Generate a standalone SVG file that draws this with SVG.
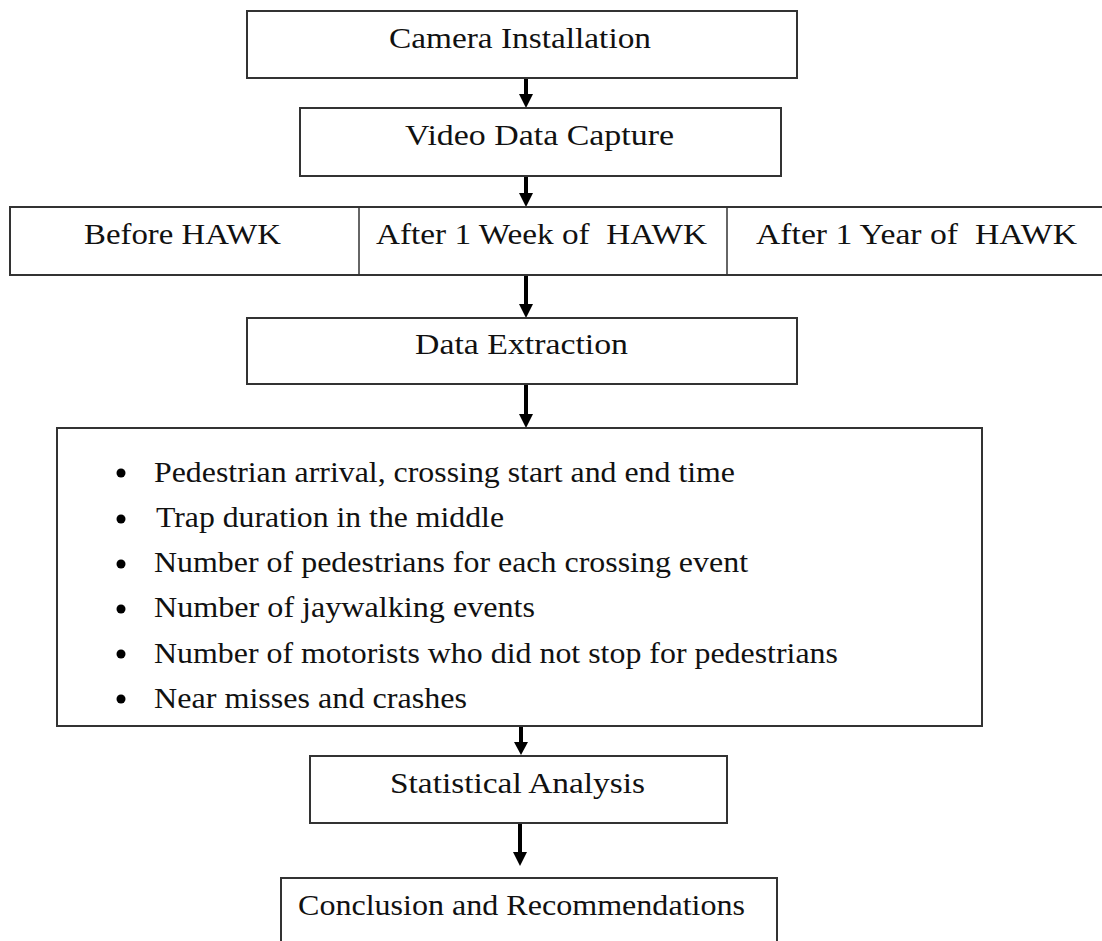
<svg xmlns="http://www.w3.org/2000/svg" width="1102" height="941" viewBox="0 0 1102 941">
<style>
.box{fill:#fff;stroke:#333;stroke-width:2}
.t{font-family:"Liberation Serif","Times New Roman",serif;font-size:29px;fill:#111}
.b{font-family:"Liberation Serif","Times New Roman",serif;font-size:29px;fill:#111}
.arr{stroke:#000;stroke-width:4;fill:none}
</style>
<defs>
<marker id="ah" markerUnits="userSpaceOnUse" markerWidth="14" markerHeight="14" viewBox="0 0 14 14" refX="7" refY="14" orient="auto-start-reverse">
<path d="M0,0 L14,0 L7,14 Z" fill="#000"/>
</marker>
</defs>
<rect width="1102" height="941" fill="#fff"/>
<g id="connectors">
<line class="arr" x1="526" y1="78" x2="526" y2="94"/><polygon points="519,94 533,94 526,108" fill="#000"/>
<line class="arr" x1="526" y1="176" x2="526" y2="193"/><polygon points="519,193 533,193 526,207" fill="#000"/>
<line class="arr" x1="526" y1="276" x2="526" y2="304"/><polygon points="519,304 533,304 526,318" fill="#000"/>
<line class="arr" x1="526" y1="385" x2="526" y2="414"/><polygon points="519,414 533,414 526,428" fill="#000"/>
<line class="arr" x1="521" y1="727" x2="521" y2="742"/><polygon points="514,742 528,742 521,755" fill="#000"/>
<line class="arr" x1="520" y1="824" x2="520" y2="852"/><polygon points="513,852 527,852 520,866" fill="#000"/>
</g>
<g id="camera">
<rect class="box" x="247" y="11" width="550" height="67"/>
<text class="t" x="389" y="48" textLength="262" lengthAdjust="spacingAndGlyphs">Camera Installation</text>
</g>
<g id="video">
<rect class="box" x="300" y="108" width="481" height="68"/>
<text class="t" x="405" y="145" textLength="269" lengthAdjust="spacingAndGlyphs">Video Data Capture</text>
</g>
<g id="periods">
<rect class="box" x="10" y="207" width="1100" height="68"/>
<line x1="359" y1="207" x2="359" y2="275" stroke="#333" stroke-width="1.5"/>
<line x1="727" y1="207" x2="727" y2="275" stroke="#333" stroke-width="1.5"/>
<text class="t" x="84" y="244" textLength="197" lengthAdjust="spacingAndGlyphs">Before HAWK</text>
<text class="t" x="376" y="244" textLength="331" lengthAdjust="spacingAndGlyphs" xml:space="preserve">After 1 Week of  HAWK</text>
<text class="t" x="756" y="244" textLength="321" lengthAdjust="spacingAndGlyphs" xml:space="preserve">After 1 Year of  HAWK</text>
</g>
<g id="extraction">
<rect class="box" x="247" y="318" width="550" height="66"/>
<text class="t" x="415" y="354" textLength="213" lengthAdjust="spacingAndGlyphs">Data Extraction</text>
</g>
<g id="items">
<rect class="box" x="57" y="428" width="925" height="298"/>
<g fill="#000">
<circle cx="121" cy="473" r="4.5"/>
<circle cx="121" cy="519" r="4.5"/>
<circle cx="121" cy="564" r="4.5"/>
<circle cx="121" cy="609" r="4.5"/>
<circle cx="121" cy="654" r="4.5"/>
<circle cx="121" cy="699" r="4.5"/>
</g>
<text class="b" x="154" y="482" textLength="581" lengthAdjust="spacingAndGlyphs">Pedestrian arrival, crossing start and end time</text>
<text class="b" x="156" y="527" textLength="348" lengthAdjust="spacingAndGlyphs">Trap duration in the middle</text>
<text class="b" x="154" y="572" textLength="594" lengthAdjust="spacingAndGlyphs">Number of pedestrians for each crossing event</text>
<text class="b" x="154" y="617" textLength="381" lengthAdjust="spacingAndGlyphs">Number of jaywalking events</text>
<text class="b" x="154" y="663" textLength="684" lengthAdjust="spacingAndGlyphs">Number of motorists who did not stop for pedestrians</text>
<text class="b" x="154" y="708" textLength="313" lengthAdjust="spacingAndGlyphs">Near misses and crashes</text>
</g>
<g id="analysis">
<rect class="box" x="310" y="756" width="417" height="67"/>
<text class="t" x="390" y="793" textLength="255" lengthAdjust="spacingAndGlyphs">Statistical Analysis</text>
</g>
<g id="conclusion">
<rect class="box" x="281" y="878" width="496" height="80"/>
<text class="t" x="298" y="915" textLength="447" lengthAdjust="spacingAndGlyphs">Conclusion and Recommendations</text>
</g>
</svg>
